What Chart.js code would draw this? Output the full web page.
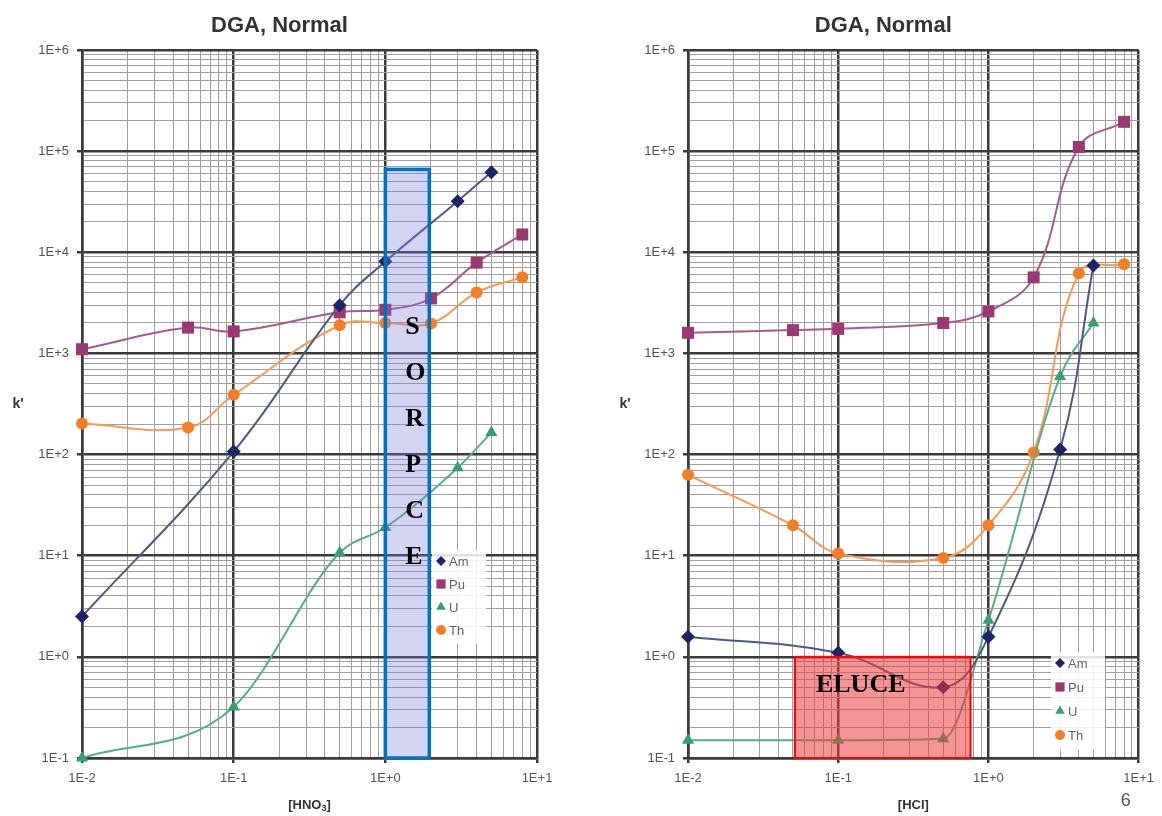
<!DOCTYPE html>
<html>
<head>
<meta charset="utf-8">
<script src="https://cdn.jsdelivr.net/npm/chart.js@4.4.0/dist/chart.umd.min.js"></script>
<style>
body { margin: 0; background: #fff; }
#wrap { position: relative; width: 1162px; height: 816px; }
.box { position: absolute; top: 0; width: 581px; height: 816px; }
</style>
</head>
<body>
<div id="wrap">
  <div class="box" style="left:0"><canvas id="hno3" width="581" height="816"></canvas></div>
  <div class="box" style="left:581px"><canvas id="hcl" width="581" height="816"></canvas></div>
</div>
<script>
// values (k' vs acid molarity)
var elements = ['Am', 'Pu', 'U', 'Th']

var hno3AmX = [0.01, 0.1, 0.5, 1, 3, 5]
var hno3AmK = [2.5, 107, 3000, 8100, 32000, 62000]
var hno3PuX = [0.01, 0.05, 0.1, 0.5, 1, 2, 4, 8]
var hno3PuK = [1100, 1800, 1650, 2550, 2700, 3500, 7900, 15000]
var hno3UX = [0.01, 0.1, 0.5, 1, 3, 5]
var hno3UK = [0.1, 0.32, 10.7, 19, 74, 165]
var hno3ThX = [0.01, 0.05, 0.1, 0.5, 1, 2, 4, 8]
var hno3ThK = [203, 185, 390, 1900, 2000, 1980, 4000, 5650]

var hclAmX = [0.01, 0.1, 0.5, 1, 3, 5]
var hclAmK = [1.58, 1.1, 0.5, 1.58, 112, 7400]
var hclPuX = [0.01, 0.05, 0.1, 0.5, 1, 2, 4, 8]
var hclPuK = [1600, 1700, 1750, 2000, 2600, 5650, 110000, 195000]
var hclUX = [0.01, 0.1, 0.5, 1, 3, 5]
var hclUK = [0.15, 0.15, 0.155, 2.3, 590, 2000]
var hclThX = [0.01, 0.05, 0.1, 0.5, 1, 2, 4, 8]
var hclThK = [63, 20, 10.5, 9.5, 20, 105, 6200, 7600]

// major ticks and their labels
var xMajor = [0.01, 0.1, 1, 10]
var xTickLabels = ['1E-2', '1E-1', '1E+0', '1E+1']
var kMajor = [0.1, 1, 10, 100, 1000, 10000, 100000, 1000000]
var kTickLabels = ['1E-1', '1E+0', '1E+1', '1E+2', '1E+3', '1E+4', '1E+5', '1E+6']

// highlighted ranges (data coords)
var sorpceX = [1, 1.95]
var sorpceK = [0.1, 66000]
var eluceX = [0.0515, 0.76]
var eluceK = [0.1, 1]

var styles = {
  Am: { marker: '#1d2466', line: '#4d5a86', point: 'rectRot', r: 7, lr: 5 },
  Pu: { marker: '#9b3a72', line: '#a85a8a', point: 'rect', r: 8.5, lr: 6.5 },
  U:  { marker: '#35a06c', line: '#58ae86', point: 'triangle', r: 7, lr: 5.5 },
  Th: { marker: '#f57f27', line: '#f79a55', point: 'circle', r: 6, lr: 5 }
}

function isMajor(v) {
  var e = Math.log10(v)
  return Math.abs(e - Math.round(e)) < 1e-9
}

function allTicks(majors) {
  var out = []
  for (var i = 0; i < majors.length; i++) {
    out.push(majors[i])
    if (i < majors.length - 1) {
      for (var m = 2; m <= 9; m++) out.push(+(majors[i] * m).toPrecision(6))
    }
  }
  return out
}

function labelFor(majors, labels) {
  return function(v) {
    for (var i = 0; i < majors.length; i++) {
      if (Math.abs(majors[i] - v) / majors[i] < 1e-6) return labels[i]
    }
    return ''
  }
}

function makeDataset(name, xs, ks) {
  var s = styles[name]
  var pts = xs.map(function(x, i) { return { x: x, y: ks[i] } })
  return {
    label: name,
    data: pts,
    clip: false,
    borderColor: s.line,
    borderWidth: 2,
    backgroundColor: s.marker,
    pointBackgroundColor: s.marker,
    pointBorderColor: s.marker,
    pointBorderWidth: 0,
    pointStyle: s.point,
    pointRadius: s.r,
    tension: 0.4,
    cubicInterpolationMode: name == 'U' ? 'monotone' : 'default'
  }
}

function gridOpts() {
  return {
    color: function(c) { return c.tick && isMajor(c.tick.value) ? '#3a3a3a' : '#a0a0a0' },
    lineWidth: function(c) { return c.tick && isMajor(c.tick.value) ? 2.5 : 1 },
    tickColor: function(c) { return c.tick && isMajor(c.tick.value) ? '#3a3a3a' : 'rgba(0,0,0,0)' },
    tickLength: 5
  }
}

// region box + its label
function overlayPlugin(cfg) {
  return {
    id: 'overlay',
    afterDatasetsDraw: function(chart) {
      var ctx = chart.ctx, xs = chart.scales.x, ys = chart.scales.y
      var l = xs.getPixelForValue(cfg.x[0]), r = xs.getPixelForValue(cfg.x[1])
      var t = ys.getPixelForValue(cfg.k[1]), b = ys.getPixelForValue(cfg.k[0])
      ctx.save()
      ctx.fillStyle = cfg.fill
      ctx.fillRect(l, t, r - l, b - t)
      ctx.strokeStyle = cfg.stroke
      ctx.lineWidth = cfg.strokeWidth
      ctx.strokeRect(l, t, r - l, b - t)
      ctx.fillStyle = '#000'
      ctx.font = 'bold 26px "Liberation Serif"'
      ctx.textBaseline = 'middle'
      ctx.textAlign = 'left'
      if (cfg.vertical) {
        var letters = cfg.text.split('')
        for (var i = 0; i < letters.length; i++) {
          ctx.fillText(letters[i], l + 20, cfg.textTop + i * 46)
        }
      } else {
        ctx.fillText(cfg.text, l + 21, t + 28)
      }
      ctx.restore()
    }
  }
}

// legend inside the plot, titles
function decorPlugin(cfg) {
  return {
    id: 'decor',
    afterDraw: function(chart) {
      var ctx = chart.ctx, area = chart.chartArea
      ctx.save()
      // legend
      ctx.fillStyle = 'rgba(255,255,255,0.85)'
      ctx.fillRect(cfg.legendX - 9, cfg.legendY - 11, 54, 4 * cfg.legendGap + 2)
      chart.data.datasets.forEach(function(ds, i) {
        var s = styles[ds.label]
        var y = cfg.legendY + i * cfg.legendGap
        ctx.fillStyle = s.marker
        ctx.strokeStyle = s.marker
        Chart.helpers.drawPoint(ctx, { pointStyle: s.point, radius: s.lr, rotation: 0, borderWidth: 0 }, cfg.legendX, y)
        ctx.fillStyle = '#666'
        ctx.font = '13px "Liberation Sans"'
        ctx.textBaseline = 'middle'
        ctx.textAlign = 'left'
        ctx.fillText(ds.label, cfg.legendX + 8, y + 1)
      })
      // chart title
      ctx.fillStyle = '#333'
      ctx.font = 'bold 22px "Liberation Sans"'
      ctx.textAlign = 'center'
      ctx.textBaseline = 'middle'
      ctx.fillText('DGA, Normal', (area.left + area.right) / 2 - 30, 26)
      // y title
      ctx.font = 'bold 14px "Liberation Sans"'
      ctx.fillText("k'", cfg.kX, 404)
      // x title with optional subscript
      ctx.font = 'bold 13px "Liberation Sans"'
      var main = cfg.xTitle[0], sub = cfg.xTitle[1], tail = cfg.xTitle[2]
      var w1 = ctx.measureText(main).width
      ctx.font = 'bold 9px "Liberation Sans"'
      var w2 = sub ? ctx.measureText(sub).width : 0
      ctx.font = 'bold 13px "Liberation Sans"'
      var w3 = ctx.measureText(tail).width
      var x0 = (area.left + area.right) / 2 - (w1 + w2 + w3) / 2
      ctx.textAlign = 'left'
      ctx.fillText(main, x0, 805)
      if (sub) {
        ctx.font = 'bold 9px "Liberation Sans"'
        ctx.fillText(sub, x0 + w1, 809)
        ctx.font = 'bold 13px "Liberation Sans"'
      }
      ctx.fillText(tail, x0 + w1 + w2, 805)
      if (cfg.page) {
        ctx.fillStyle = '#555'
        ctx.font = '18px "Liberation Sans"'
        ctx.textAlign = 'center'
        ctx.fillText(cfg.page, area.right - 13, 801)
      }
      ctx.restore()
    }
  }
}

function buildChart(id, sets, yWidth, padRight, overlay, decor) {
  new Chart(document.getElementById(id), {
    type: 'line',
    data: { datasets: sets },
    options: {
      responsive: false,
      animation: false,
      layout: { padding: { left: 0, right: padRight, top: 50, bottom: 0 } },
      plugins: { legend: { display: false }, tooltip: { enabled: false } },
      scales: {
        x: {
          type: 'logarithmic',
          min: 0.01, max: 10,
          afterBuildTicks: function(sc) { sc.ticks = allTicks(xMajor).map(function(v) { return { value: v } }) },
          afterFit: function(sc) { sc.height = 58 },
          grid: gridOpts(),
          border: { color: '#3a3a3a', width: 2.5 },
          ticks: {
            autoSkip: false, maxRotation: 0, padding: 8,
            color: '#555', font: { family: 'Liberation Sans', size: 13 },
            callback: labelFor(xMajor, xTickLabels)
          }
        },
        y: {
          type: 'logarithmic',
          min: 0.1, max: 1000000,
          afterBuildTicks: function(sc) { sc.ticks = allTicks(kMajor).map(function(v) { return { value: v } }) },
          afterFit: function(sc) { sc.width = yWidth },
          grid: gridOpts(),
          border: { color: '#3a3a3a', width: 2.5 },
          ticks: {
            autoSkip: false, padding: 8,
            color: '#555', font: { family: 'Liberation Sans', size: 13 },
            callback: labelFor(kMajor, kTickLabels)
          }
        }
      }
    },
    plugins: [overlayPlugin(overlay), decorPlugin(decor)]
  })
}

buildChart('hno3', [
  makeDataset('Am', hno3AmX, hno3AmK),
  makeDataset('Pu', hno3PuX, hno3PuK),
  makeDataset('U', hno3UX, hno3UK),
  makeDataset('Th', hno3ThX, hno3ThK)
], 82, 44, {
  x: sorpceX, k: sorpceK, fill: 'rgba(120,120,220,0.33)', stroke: '#0070c0', strokeWidth: 3.5,
  text: 'SORPCE', vertical: true, textTop: 327
}, {
  legendX: 441, legendY: 561, legendGap: 23, kX: 18, xTitle: ['[HNO', '3', ']']
})

buildChart('hcl', [
  makeDataset('Am', hclAmX, hclAmK),
  makeDataset('Pu', hclPuX, hclPuK),
  makeDataset('U', hclUX, hclUK),
  makeDataset('Th', hclThX, hclThK)
], 107, 22, {
  x: eluceX, k: eluceK, fill: 'rgba(235,60,60,0.55)', stroke: '#ff0000', strokeWidth: 2,
  text: 'ELUCE', vertical: false
}, {
  legendX: 479, legendY: 663, legendGap: 24, kX: 44, xTitle: ['[HCl', '', ']'], page: '6'
})
</script>
</body>
</html>
